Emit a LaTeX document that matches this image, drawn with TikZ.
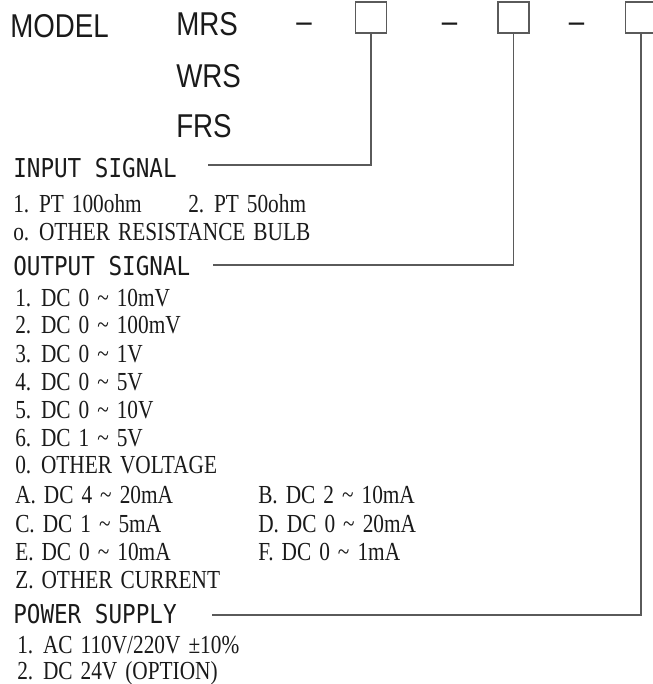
\documentclass[tikz,border=0pt]{standalone}
\usepackage{fontspec}
\newfontfamily\modelfont[FakeStretch=0.84]{Liberation Sans}
\newfontfamily\headfont[FakeStretch=0.87]{DejaVu Sans Mono}
\newfontfamily\itemfont[FakeStretch=0.82,WordSpace=1.5]{Liberation Serif}
\newcommand\tild{\textasciitilde}
\definecolor{boxgray}{HTML}{5A5A5A}
\definecolor{inkblack}{HTML}{1A1A1A}
\begin{document}
\begin{tikzpicture}[x=0.75pt,y=-0.75pt,
  model/.style={font=\modelfont\fontsize{24.75}{30}\selectfont, text=inkblack, anchor=base west, inner sep=0pt},
  head/.style={font=\headfont\fontsize{19.5}{24}\selectfont, text=inkblack, anchor=base west, inner sep=0pt},
  item/.style={font=\itemfont\fontsize{19.5}{23}\selectfont, text=inkblack, anchor=base west, inner sep=0pt},
  codebox/.style={draw=boxgray, line width=0.9pt, minimum width=23.25pt, minimum height=23.25pt, inner sep=0pt},
  lead/.style={draw=boxgray, line width=0.8pt}]
\useasboundingbox (0,0) rectangle (652,684);

% model line
\node[model] (model) at (10,38) {MODEL};
\node[model] (mrs) at (176,36) {MRS};
\node[model] (wrs) at (176,88) {WRS};
\node[model] (frs) at (176,138) {FRS};

\node[model, anchor=base] (d1) at (304,33) {–};
\node[model, anchor=base] (d2) at (449.5,33) {–};
\node[model, anchor=base] (d3) at (576.5,33) {–};

\node[codebox] (b1) at (371,17.5) {};
\node[codebox] (b2) at (513.5,17.5) {};
\node[codebox] (b3) at (641,17.5) {};

% input signal
\node[head] (in) at (13,178) {INPUT SIGNAL};
\coordinate (inend) at (208,165);
\draw[lead] (b1.south) |- (inend);

\node[item] (in1) at (13,212) {1. PT 100ohm};
\node[item] (in2) at (188,212) {2. PT 50ohm};
\node[item] (in0) at (13,240) {o. OTHER RESISTANCE BULB};

% output signal
\node[head] (out) at (13,275) {OUTPUT SIGNAL};
\coordinate (outend) at (213,265);
\draw[lead] (b2.south) |- (outend);

\node[item] (out1) at (15,306) {1. DC 0 \tild\ 10mV};
\node[item] (out2) at (15,333) {2. DC 0 \tild\ 100mV};
\node[item] (out3) at (15,362) {3. DC 0 \tild\ 1V};
\node[item] (out4) at (15,390) {4. DC 0 \tild\ 5V};
\node[item] (out5) at (15,418) {5. DC 0 \tild\ 10V};
\node[item] (out6) at (15,446) {6. DC 1 \tild\ 5V};
\node[item] (out0) at (15,473) {0. OTHER VOLTAGE};
\node[item] (outA) at (15,503) {A. DC 4 \tild\ 20mA};
\node[item] (outB) at (258,503) {B. DC 2 \tild\ 10mA};
\node[item] (outC) at (15,532) {C. DC 1 \tild\ 5mA};
\node[item] (outD) at (258,532) {D. DC 0 \tild\ 20mA};
\node[item] (outE) at (15,560) {E. DC 0 \tild\ 10mA};
\node[item] (outF) at (258,560) {F. DC 0 \tild\ 1mA};
\node[item] (outZ) at (15,588) {Z. OTHER CURRENT};

% power supply
\node[head] (pwr) at (13,623) {POWER SUPPLY};
\coordinate (pwrend) at (212,615);
\draw[lead] (b3.south) |- (pwrend);

\node[item] (pwr1) at (17,653) {1. AC 110V/220V ±10\%};
\node[item] (pwr2) at (17,679) {2. DC 24V (OPTION)};
\end{tikzpicture}
\end{document}
